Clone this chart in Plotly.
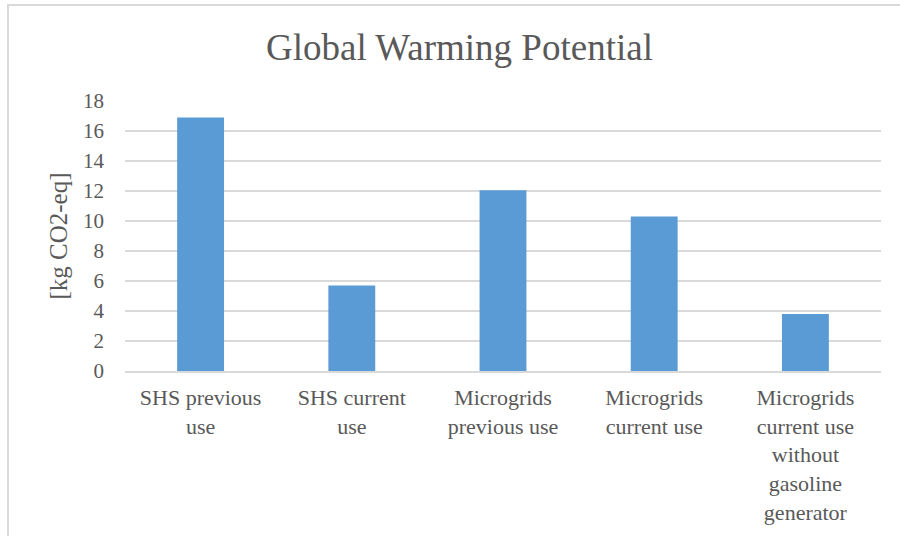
import plotly.graph_objects as go

# Chart data
categories = [
    "SHS previous<br>use",
    "SHS current<br>use",
    "Microgrids<br>previous use",
    "Microgrids<br>current use",
    "Microgrids<br>current use<br>without<br>gasoline<br>generator",
]
gwp_values = [16.9, 5.7, 12.05, 10.3, 3.8]
y_ticks = [0, 2, 4, 6, 8, 10, 12, 14, 16, 18]

W, H = 900, 536
L, R, T, B = 125, 19, 101, 165
plot_w = W - L - R
plot_h = H - T - B

FONT = "Liberation Serif"
TEXT = "#595959"
GRID = "#d9d9d9"

fig = go.Figure(
    go.Bar(
        x=categories,
        y=gwp_values,
        marker=dict(color="#5b9bd5", line=dict(width=0)),
        width=0.31,
    )
)

# Outer chart frame (left and top edges visible)
fig.add_shape(
    type="rect", xref="paper", yref="paper",
    x0=(8 - L) / plot_w, x1=1.2,
    y0=-1.0, y1=(T + plot_h - 5) / plot_h,
    line=dict(color=GRID, width=2), fillcolor="rgba(0,0,0,0)", layer="below",
)

fig.update_layout(
    width=W, height=H,
    margin=dict(l=L, r=R, t=T, b=B, autoexpand=False),
    paper_bgcolor="white", plot_bgcolor="white",
    showlegend=False,
    title=dict(
        text="Global Warming Potential",
        font=dict(family=FONT, size=37, color=TEXT),
        x=459.5 / W, xanchor="center", xref="container",
        y=1 - 47 / H, yanchor="middle", yref="container",
    ),
    font=dict(family=FONT, size=22, color=TEXT),
    bargap=0.69,
)

fig.update_xaxes(
    showgrid=False, showline=True, linecolor=GRID, linewidth=1.5,
    ticks="", tickfont=dict(family=FONT, size=22, color=TEXT),
    ticklabelstandoff=6,
    fixedrange=True,
)
fig.update_yaxes(
    range=[0, 18], tickvals=y_ticks, ticktext=[str(v) for v in y_ticks],
    showgrid=True, gridcolor=GRID, gridwidth=1.5,
    zeroline=False, showline=False, ticks="",
    ticklabelstandoff=20,
    tickfont=dict(family=FONT, size=21, color=TEXT),
    title=dict(text="[kg CO2-eq]", font=dict(family=FONT, size=25, color=TEXT), standoff=8),
    fixedrange=True,
)

fig.write_html("out.html")
